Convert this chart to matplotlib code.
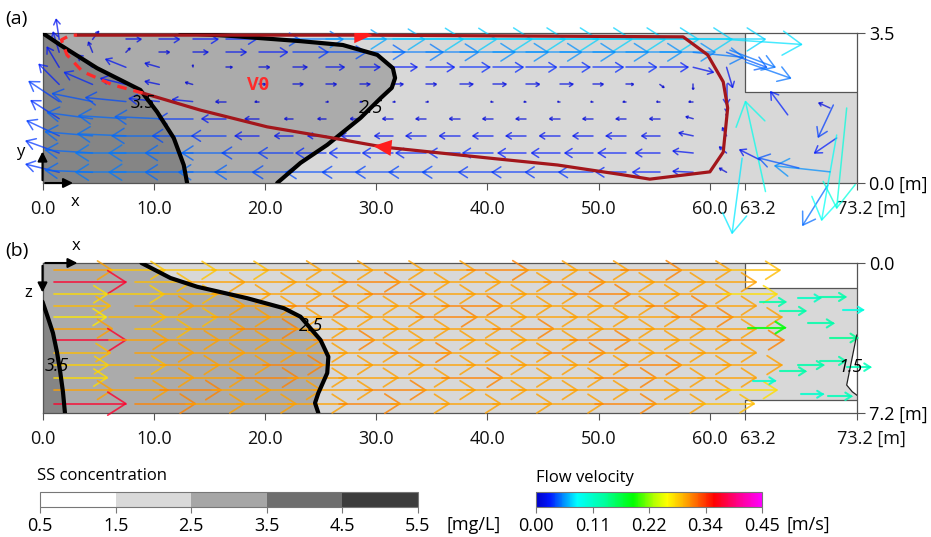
import numpy as np
import matplotlib.pyplot as plt
from matplotlib.colors import LinearSegmentedColormap, ListedColormap, BoundaryNorm, Normalize
from matplotlib.collections import LineCollection
from matplotlib.cm import ScalarMappable
from matplotlib.patches import Polygon
from matplotlib.transforms import ScaledTranslation

plt.rcParams['font.family'] = ['Open Sans', 'DejaVu Sans']

W, H = 931, 537

# tank geometry [m]
x_end = 73.2
x_outlet = 63.2
width_a = 3.5
depth_b = 7.2
outlet_a_y = 2.12
outlet_b_top, outlet_b_bot = 1.21, 6.58

x_ticks = [0.0, 10.0, 20.0, 30.0, 40.0, 50.0, 60.0, 63.2, 73.2]
x_ticklabels = ['0.0', '10.0', '20.0', '30.0', '40.0', '50.0', '60.0', '63.2', '73.2 [m]']

# SS isolines, plan view (a)
a_c35_x = [0.0, 1.6, 4.9, 8.8, 10.3, 11.8, 12.7, 13.0]
a_c35_y = [3.5, 3.22, 2.68, 2.17, 1.66, 1.05, 0.42, 0.0]
a_c25_x = [12.4, 17.1, 19.6, 23.2, 27.0, 30.1, 31.5, 31.7, 31.4, 30.4, 28.6, 25.6, 23.2, 21.1]
a_c25_y = [3.5, 3.43, 3.38, 3.31, 3.22, 2.99, 2.68, 2.45, 2.22, 1.98, 1.52, 0.89, 0.47, 0.0]

# SS isolines, longitudinal section (b)
b_c35_x = [0.0, 0.5, 0.94, 1.3, 1.57, 1.84, 2.02]
b_c35_z = [1.86, 2.64, 3.36, 4.27, 5.14, 6.19, 7.2]
b_c25_x = [8.9, 11.5, 13.9, 18.4, 21.7, 23.2, 25.0, 25.7, 25.6, 24.8, 24.5, 24.8]
b_c25_z = [0.0, 0.72, 1.14, 1.69, 2.17, 2.58, 3.70, 4.50, 5.28, 6.24, 6.72, 7.2]
b_c15_x = [73.2, 72.9, 72.6, 72.3, 72.8, 73.2]
b_c15_z = [3.46, 4.26, 5.06, 5.86, 6.18, 6.34]

# streamline V0 in plan view
v0_x = [3.1, 28.8, 57.6, 59.8, 61.2, 61.6, 61.2, 60.0, 54.6, 52.2, 46.3, 40.2, 30.6, 26.1, 20.2, 14.2, 9.0]
v0_y = [3.45, 3.45, 3.41, 2.99, 2.36, 1.75, 0.72, 0.26, 0.09, 0.19, 0.42, 0.58, 0.84, 1.05, 1.31, 1.70, 2.10]
v0_heads = [1, 12]
v0_dash_x = [9.0, 6.3, 3.6, 2.2, 1.7, 2.5, 3.1]
v0_dash_y = [2.10, 2.29, 2.6, 2.99, 3.34, 3.45, 3.45]

# plan view velocities [m/s]
xa = [1.5, 4.5, 7.5, 10.5, 13.5, 16.5, 19.5, 22.5, 25.5, 28.5, 31.5,
      34.5, 37.5, 40.5, 43.5, 46.5, 49.5, 52.5, 55.5, 58.5, 61.5]
ya = [3.35, 3.05, 2.7, 2.3, 1.9, 1.5, 1.1, 0.7, 0.25]
ua = [
    [-0.003, 0.006, 0.015, 0.02, 0.025, 0.03, 0.04, 0.05, 0.06, 0.065, 0.07, 0.07, 0.072, 0.072, 0.072, 0.072, 0.072, 0.072, 0.072, 0.072, 0.075],
    [-0.006, -0.004, 0.004, 0.01, 0.015, 0.02, 0.028, 0.035, 0.04, 0.045, 0.05, 0.052, 0.055, 0.055, 0.055, 0.055, 0.055, 0.055, 0.055, 0.05, 0.04],
    [-0.012, -0.015, -0.02, -0.014, 0.0, 0.006, 0.01, 0.014, 0.018, 0.02, 0.024, 0.028, 0.03, 0.03, 0.03, 0.03, 0.03, 0.03, 0.028, 0.02, 0.006],
    [-0.02, -0.028, -0.025, -0.014, -0.007, 0.0, 0.006, 0.01, 0.01, 0.01, 0.01, 0.01, 0.013, 0.013, 0.013, 0.013, 0.01, 0.007, 0.004, 0.0, 0.0],
    [-0.03, -0.04, -0.04, -0.03, -0.02, -0.01, -0.004, 0.0, 0.002, 0.002, 0.002, 0.002, 0.0, -0.002, -0.002, -0.002, -0.002, -0.003, -0.003, -0.004, 0.0],
    [-0.028, -0.045, -0.047, -0.044, -0.034, -0.024, -0.014, -0.008, -0.008, -0.009, -0.01, -0.01, -0.01, -0.01, -0.01, -0.01, -0.01, -0.01, -0.01, -0.007, 0.0],
    [-0.032, -0.047, -0.048, -0.047, -0.04, -0.034, -0.024, -0.018, -0.018, -0.018, -0.018, -0.02, -0.02, -0.02, -0.02, -0.02, -0.02, -0.02, -0.018, -0.014, -0.004],
    [-0.033, -0.047, -0.05, -0.05, -0.047, -0.044, -0.037, -0.034, -0.03, -0.03, -0.03, -0.03, -0.03, -0.03, -0.028, -0.028, -0.028, -0.028, -0.024, -0.02, -0.007],
    [-0.033, -0.047, -0.05, -0.05, -0.047, -0.047, -0.044, -0.04, -0.04, -0.037, -0.037, -0.037, -0.037, -0.034, -0.034, -0.034, -0.034, -0.03, -0.027, -0.02, -0.007],
]
va = [
    [0.02, 0.008, 0, 0, 0, 0, 0, 0, 0, 0, 0, 0, 0, 0, 0, 0, 0, 0, 0, 0, -0.005],
    [0.02, 0.01, 0.004, 0, 0, 0, 0, 0, 0, 0, 0, 0, 0, 0, 0, 0, 0, 0, 0, -0.005, -0.015],
    [0.02, 0.012, 0.008, 0.004, 0.002, 0, 0, 0, 0, 0, 0, 0, 0, 0, 0, 0, 0, 0, 0, -0.005, -0.02],
    [0.02, 0.012, 0.006, 0.003, 0.002, 0, 0, 0, 0, 0, 0, 0, 0, 0, 0, 0, 0, 0, -0.003, -0.005, -0.02],
    [0.02, 0.008, 0.004, 0.003, 0.002, 0, 0, 0, 0, 0, 0, 0, 0, 0, 0, 0, 0, 0, 0, 0, -0.01],
    [0.018, 0.006, 0.003, 0.002, 0, 0, 0, 0, 0, 0, 0, 0, 0, 0, 0, 0, 0, 0, 0, 0.002, 0.005],
    [0.015, 0.004, 0.002, 0, 0, 0, 0, 0, 0, 0, 0, 0, 0, 0, 0, 0, 0, 0, 0, 0.003, 0.008],
    [0.012, 0.003, 0, 0, 0, 0, 0, 0, 0, 0, 0, 0, 0, 0, 0, 0, 0, 0, 0, 0.002, 0.006],
    [0.008, 0.002, 0, 0, 0, 0, 0, 0, 0, 0, 0, 0, 0, 0, 0, 0, 0, 0, 0, 0.001, 0.004],
]
# plan view, scattered vectors around the outlet
ao_x = [67.0, 70.8, 71.1, 71.4, 70.6, 65.0, 62.9, 71.4, 72.3, 70.8, 68.0, 64.5, 63.2, 61.8]
ao_y = [1.59, 1.75, 1.82, 1.05, -0.05, -0.2, 0.58, 1.12, 1.75, 0.26, 0.35, 0.54, 2.82, 3.1]
ao_u = [-0.017, -0.011, -0.015, -0.022, -0.025, -0.02, -0.01, -0.015, -0.01, -0.055, -0.04, -0.02, 0.045, 0.045]
ao_v = [0.023, 0.005, -0.032, -0.015, -0.04, 0.09, -0.075, -0.085, -0.1, 0.006, 0.01, 0.01, -0.016, -0.017]

# section velocities [m/s], staggered rows
zb = [0.35, 0.92, 1.5, 2.05, 2.6, 3.15, 3.7, 4.3, 4.9, 5.5, 6.1, 6.75]
xb_left = 1.0
ub_left = [0.30, 0.37, 0.275, 0.29, 0.27, 0.30, 0.37, 0.29, 0.28, 0.275, 0.30, 0.37]
xb_even = [6.0, 10.6, 15.2, 19.8, 24.4, 29.0, 33.6, 38.2, 42.8, 47.4, 52.0, 56.6, 61.2]
xb_odd = [8.3, 12.9, 17.5, 22.1, 26.7, 31.3, 35.9, 40.5, 45.1, 49.7, 54.3, 58.9]
ub = [
    [0.285, 0.285, 0.29, 0.30, 0.30, 0.30, 0.30, 0.31, 0.30, 0.30, 0.31, 0.30, 0.29],
    [0.29, 0.30, 0.30, 0.30, 0.31, 0.30, 0.30, 0.30, 0.31, 0.30, 0.30, 0.30],
    [0.28, 0.29, 0.30, 0.30, 0.30, 0.31, 0.30, 0.30, 0.30, 0.31, 0.30, 0.30, 0.275],
    [0.30, 0.30, 0.30, 0.31, 0.30, 0.30, 0.31, 0.30, 0.30, 0.30, 0.31, 0.30],
    [0.29, 0.29, 0.30, 0.30, 0.30, 0.30, 0.31, 0.30, 0.30, 0.30, 0.30, 0.31, 0.30],
    [0.29, 0.30, 0.31, 0.30, 0.30, 0.30, 0.30, 0.31, 0.30, 0.30, 0.30, 0.30],
    [0.30, 0.30, 0.30, 0.30, 0.31, 0.30, 0.30, 0.30, 0.30, 0.31, 0.30, 0.30, 0.31],
    [0.30, 0.30, 0.30, 0.30, 0.30, 0.31, 0.30, 0.30, 0.31, 0.30, 0.30, 0.30],
    [0.29, 0.30, 0.30, 0.31, 0.30, 0.30, 0.30, 0.30, 0.30, 0.30, 0.31, 0.30, 0.30],
    [0.30, 0.30, 0.31, 0.30, 0.30, 0.30, 0.31, 0.30, 0.30, 0.31, 0.30, 0.30],
    [0.30, 0.31, 0.30, 0.30, 0.30, 0.31, 0.30, 0.30, 0.30, 0.30, 0.30, 0.30, 0.275],
    [0.31, 0.30, 0.30, 0.30, 0.31, 0.30, 0.30, 0.30, 0.30, 0.31, 0.30, 0.29],
]
# section, vectors in the outlet
bo_x = [63.4, 64.5, 67.9, 69.9, 72.0, 66.3, 68.8, 70.8, 67.9, 66.3, 69.9, 72.3, 63.9, 68.2, 70.6]
bo_z = [3.1, 1.87, 1.68, 1.63, 2.25, 2.3, 2.9, 3.6, 4.9, 5.2, 4.7, 5.0, 5.65, 6.3, 6.4]
bo_u = [0.19, 0.13, 0.115, 0.13, 0.10, 0.13, 0.13, 0.14, 0.13, 0.13, 0.13, 0.12, 0.11, 0.11, 0.12]

# legends
ss_levels = [0.5, 1.5, 2.5, 3.5, 4.5, 5.5]
ss_colors = ['#ffffff', '#d9d9d9', '#a6a6a6', '#6e6e6e', '#3c3c3c']
vel_ticks = [0.0, 0.1125, 0.225, 0.3375, 0.45]
vel_ticklabels = ['0.00', '0.11', '0.22', '0.34', '0.45']

shade_light, shade_mid, shade_dark = '#d8d8d8', '#ababab', '#858585'

vel_cmap = LinearSegmentedColormap.from_list('vel', [
    (0.0, '#0000c8'), (0.06, '#0018ff'), (0.18, '#00ffff'), (0.30, '#00ffa0'),
    (0.43, '#00ff00'), (0.52, '#b0ff00'), (0.58, '#ffff00'), (0.66, '#ffaa00'),
    (0.79, '#ff0000'), (0.90, '#ff0090'), (1.0, '#ff00ff')])
vel_norm = Normalize(0, 0.45)


def draw_vectors(ax, xs, ys, us, vs, px_per_ms, lw=1.0, alpha=0.85):
    """open-headed arrows, length in screen pixels proportional to speed"""
    T = ax.transData
    inv = T.inverted()
    segs, cols = [], []
    for x, y, u, v in zip(xs, ys, us, vs):
        spd = np.hypot(u, v)
        if spd < 1e-6:
            continue
        p0 = T.transform((x, y))
        d = np.array([u, v]) * px_per_ms
        L = np.hypot(*d)
        e = d / L
        n = np.array([-e[1], e[0]])
        p1 = p0 + d
        hl, hw = 0.25 * L, 0.16 * L
        segs.append(inv.transform([p0, p1]))
        segs.append(inv.transform([p1 - hl * e + hw * n, p1, p1 - hl * e - hw * n]))
        c = vel_cmap(vel_norm(spd))
        cols += [c, c]
    lc = LineCollection(segs, colors=cols, linewidths=lw, alpha=alpha, zorder=3,
                        capstyle='round', joinstyle='miter')
    lc.set_clip_on(False)
    ax.add_collection(lc)


def red_head(ax, x0, y0, x1, y1, size=9.5):
    T = ax.transData
    p0, p1 = T.transform((x0, y0)), T.transform((x1, y1))
    e = (p1 - p0) / np.hypot(*(p1 - p0))
    n = np.array([-e[1], e[0]])
    pts = [p1 + e * size, p1 - e * size * 0.9 + n * size * 0.85, p1 - e * size * 0.9 - n * size * 0.85]
    ax.add_patch(Polygon(T.inverted().transform(pts), closed=True, fc='#ff1e1e', ec='none', zorder=6))


def x_labels(ax):
    ax.set_xticks(x_ticks)
    ax.set_xticklabels([])
    ax.tick_params(axis='x', direction='out', length=5, width=0.8, color='#555')
    shifts = {7: 12, 8: -20}
    for i, (x, lab) in enumerate(zip(x_ticks, x_ticklabels)):
        ha = 'left' if i == 8 else 'center'
        tr = ax.get_xaxis_transform() + ScaledTranslation(shifts.get(i, 0) / 100, -31 / 100, fig.dpi_scale_trans)
        ax.text(x, 0, lab, transform=tr, ha=ha, va='baseline', fontsize=13, color='#111')


def frame(ax):
    ax.set_xlim(0, x_end)
    ax.yaxis.tick_right()
    ax.tick_params(axis='y', direction='out', length=6, width=0.8, color='#555', labelsize=13, pad=3)
    for s in ax.spines.values():
        s.set_color('#555')
        s.set_linewidth(0.9)


fig = plt.figure(figsize=(W / 100, H / 100), dpi=100)
fig.patch.set_facecolor('white')

ax_a = fig.add_axes([42.5 / W, 1 - 183 / H, 814.2 / W, 150 / H])
ax_b = fig.add_axes([42.5 / W, 1 - 413 / H, 814.2 / W, 150 / H])

# ---------------- (a) plan view ----------------
frame(ax_a)
ax_a.set_ylim(0, width_a)
ax_a.set_yticks([0, width_a])
ax_a.set_yticklabels(['0.0 [m]', '3.5'])
x_labels(ax_a)

ax_a.fill([0, x_end, x_end, 0], [0, 0, width_a, width_a], color=shade_light, lw=0, zorder=0)
ax_a.fill([x_outlet, x_end, x_end, x_outlet], [outlet_a_y, outlet_a_y, width_a, width_a], color='white', lw=0, zorder=0.5)
ax_a.fill(a_c25_x + a_c35_x[::-1], a_c25_y + a_c35_y[::-1], color=shade_mid, lw=0, zorder=0.6)
ax_a.fill(a_c35_x + [0.0], a_c35_y + [0.0], color=shade_dark, lw=0, zorder=0.7)
ax_a.plot([x_outlet, x_outlet, x_end], [width_a, outlet_a_y, outlet_a_y], color='#555', lw=0.9, zorder=1)

grid_x = [x for _ in ya for x in xa]
grid_y = [y for y in ya for _ in xa]
draw_vectors(ax_a, grid_x, grid_y, sum(ua, []), sum(va, []), 1000, lw=1.1, alpha=0.72)
draw_vectors(ax_a, ao_x, ao_y, ao_u, ao_v, 1000, lw=1.1, alpha=0.72)

ax_a.plot(a_c35_x, a_c35_y, color='black', lw=3, zorder=4, solid_capstyle='round')
ax_a.plot(a_c25_x, a_c25_y, color='black', lw=3, zorder=4, solid_capstyle='round')
ax_a.text(9.0, 1.87, '3.5', style='italic', fontsize=13, ha='center', va='center', zorder=6)
ax_a.text(29.5, 1.75, '2.5', style='italic', fontsize=13, ha='center', va='center', zorder=6)

ax_a.plot(v0_x, v0_y, color='#a3161b', lw=2.3, zorder=5)
ax_a.plot(v0_dash_x, v0_dash_y, color='#ff2a2a', lw=2.3, ls=(0, (3, 2.2)), zorder=5)
for i in v0_heads:
    red_head(ax_a, v0_x[i - 1], v0_y[i - 1], v0_x[i], v0_y[i])
ax_a.text(19.4, 2.29, 'V0', color='#ff2a2a', fontsize=13, fontweight='bold', ha='center', va='center', zorder=6)

# local axes
ax_a.annotate('', xy=(3.0, 0), xytext=(0, 0), arrowprops=dict(arrowstyle='-|>', color='black', lw=1.5, mutation_scale=14), annotation_clip=False, zorder=7)
ax_a.annotate('', xy=(0, 0.8), xytext=(0, 0), arrowprops=dict(arrowstyle='-|>', color='black', lw=1.5, mutation_scale=14), annotation_clip=False, zorder=7)
ax_a.text(2.9, -0.45, 'x', fontsize=12, ha='center', va='center', clip_on=False)
ax_a.text(-2.0, 0.72, 'y', fontsize=12, ha='center', va='center', clip_on=False)
fig.text(5 / W, 1 - 19 / H, '(a)', fontsize=14, va='center')

# ---------------- (b) longitudinal section ----------------
frame(ax_b)
ax_b.set_ylim(depth_b, 0)
ax_b.set_yticks([0, depth_b])
ax_b.set_yticklabels(['0.0', '7.2 [m]'])
x_labels(ax_b)

ax_b.fill([0, x_end, x_end, 0], [0, 0, depth_b, depth_b], color=shade_light, lw=0, zorder=0)
ax_b.fill([x_outlet, x_end, x_end, x_outlet], [0, 0, outlet_b_top, outlet_b_top], color='white', lw=0, zorder=0.5)
ax_b.fill([x_outlet, x_end, x_end, x_outlet], [outlet_b_bot, outlet_b_bot, depth_b, depth_b], color='white', lw=0, zorder=0.5)
ax_b.fill(b_c15_x, b_c15_z, color='white', lw=0, zorder=0.5)
ax_b.fill([0.0] + b_c25_x + [0.0], [0.0] + b_c25_z + [depth_b], color=shade_mid, lw=0, zorder=0.6)
ax_b.fill(b_c35_x + [0.0], b_c35_z + [depth_b], color=shade_dark, lw=0, zorder=0.7)
ax_b.plot([x_outlet, x_outlet, x_end], [0, outlet_b_top, outlet_b_top], color='#555', lw=0.9, zorder=1)
ax_b.plot([x_outlet, x_outlet, x_end], [depth_b, outlet_b_bot, outlet_b_bot], color='#555', lw=0.9, zorder=1)

bx, bz, bu = [], [], []
for i, z in enumerate(zb):
    xs = xb_even if i % 2 == 0 else xb_odd
    bx += [xb_left] + xs
    bz += [z] * (len(xs) + 1)
    bu += [ub_left[i]] + ub[i]
draw_vectors(ax_b, bx, bz, bu, [0.0] * len(bu), 195, lw=1.25, alpha=0.8)
draw_vectors(ax_b, bo_x, bo_z, bo_u, [0.0] * len(bo_u), 195, lw=1.5, alpha=0.85)

ax_b.plot(b_c35_x, b_c35_z, color='black', lw=3, zorder=4, solid_capstyle='round')
ax_b.plot(b_c25_x, b_c25_z, color='black', lw=3, zorder=4, solid_capstyle='round')
ax_b.plot(b_c15_x, b_c15_z, color='#222', lw=0.9, zorder=4)
ax_b.text(1.3, 4.94, '3.5', style='italic', fontsize=13, ha='center', va='center', zorder=6)
ax_b.text(24.1, 3.02, '2.5', style='italic', fontsize=13, ha='center', va='center', zorder=6)
ax_b.text(72.6, 5.0, '1.5', style='italic', fontsize=13, ha='center', va='center', zorder=6)

ax_b.annotate('', xy=(3.4, 0), xytext=(0, 0), arrowprops=dict(arrowstyle='-|>', color='black', lw=1.5, mutation_scale=14), annotation_clip=False, zorder=7)
ax_b.annotate('', xy=(0, 1.55), xytext=(0, 0), arrowprops=dict(arrowstyle='-|>', color='black', lw=1.5, mutation_scale=14), annotation_clip=False, zorder=7)
ax_b.text(3.0, -0.8, 'x', fontsize=12, ha='center', va='center', clip_on=False)
ax_b.text(-1.3, 1.44, 'z', fontsize=12, ha='center', va='center', clip_on=False)
fig.text(5 / W, 1 - 251 / H, '(b)', fontsize=14, va='center')

# ---------------- legends ----------------
cax_ss = fig.add_axes([40 / W, 1 - 507 / H, 378 / W, 15.5 / H])
cb1 = fig.colorbar(ScalarMappable(BoundaryNorm(ss_levels, len(ss_colors)), ListedColormap(ss_colors)),
                   cax=cax_ss, orientation='horizontal', ticks=ss_levels)
cb1.ax.set_xticklabels([f'{v:.1f}' for v in ss_levels])
cb1.outline.set_edgecolor('#777')
cb1.ax.tick_params(length=4, width=0.8, color='#777', labelsize=13, pad=3)
fig.text(37 / W, 1 - 476 / H, 'SS concentration', fontsize=12, va='center')
fig.text(447 / W, 1 - 530 / H, '[mg/L]', fontsize=13, va='baseline')

cax_v = fig.add_axes([536 / W, 1 - 507 / H, 226 / W, 15.5 / H])
cb2 = fig.colorbar(ScalarMappable(vel_norm, vel_cmap), cax=cax_v, orientation='horizontal', ticks=vel_ticks)
cb2.ax.set_xticklabels(vel_ticklabels)
cb2.outline.set_edgecolor('#777')
cb2.ax.tick_params(length=4, width=0.8, color='#777', labelsize=13, pad=3)
fig.text(536 / W, 1 - 478 / H, 'Flow velocity', fontsize=12, va='center')
fig.text(786 / W, 1 - 530 / H, '[m/s]', fontsize=13, va='baseline')

fig.savefig('out.png', dpi=100)
